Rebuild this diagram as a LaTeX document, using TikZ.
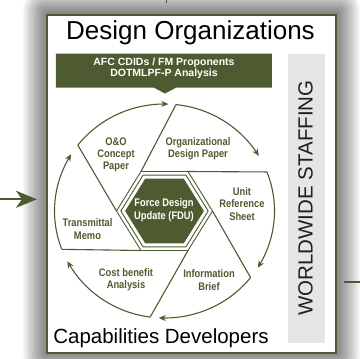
\documentclass[tikz,border=0pt]{standalone}
\usepackage{fontspec}
\setmainfont{Liberation Sans}
\newfontfamily\narrowfont[FakeStretch=0.85]{Liberation Sans}
\usetikzlibrary{arrows.meta}
\definecolor{fduolive}{RGB}{78,91,48}
\definecolor{barfill}{RGB}{229,229,231}
\def\cenx{164.5}
\def\ceny{211}
\def\radx{110}
\def\rady{107}

\begin{document}
\begin{tikzpicture}[x=1pt,y=-1pt,
  blade/.style={draw=fduolive,line width=1.1pt},
  cyc/.style={draw=fduolive,line width=1.1pt,-{Stealth[length=7pt,width=6pt]}},
  hexline/.style={draw=fduolive,line width=0.9pt},
  hexfill/.style={fill=fduolive},
  lbl/.style={text=fduolive,align=center,font=\narrowfont\bfseries\fontsize{11}{12.3}\selectfont},
  flow/.style={draw=fduolive,line width=2pt}]
\useasboundingbox (0,0) rectangle (360,359);
\foreach \i in {0,...,19}
  \fill[black,opacity=0.03,rounded corners=\i pt] ({46-1.2*\i},{13-1.2*\i}) rectangle ({337+1.2*\i},{353+1.2*\i});
\draw[fduolive,line width=2pt,fill=white] (47,14.5) rectangle (336.5,352.5);
\fill[barfill] (288,54) rectangle (325,343);
\fill[fduolive] (56,53.5) -- (272,53.5) -- (272,87.7) -- (176,87.7) -- (165,93.5) -- (154,87.7) -- (56,87.7) -- cycle;

\node[anchor=base,font=\fontsize{26}{28}\selectfont] (title) at (190.5,39.5) {Design Organizations};
\node[anchor=base,font=\fontsize{20.5}{24}\selectfont] (capdev) at (161,343) {Capabilities Developers};
\node[rotate=90,text=black!88,font=\fontsize{20.5}{24}\selectfont] (wws) at (305.5,198) {WORLDWIDE STAFFING};
\node[text=white,align=center,font=\bfseries\fontsize{10.5}{11.5}\selectfont] (afc) at (164,68.5) {AFC CDIDs / FM Proponents\\DOTMLPF-P Analysis};

\coordinate (c) at (\cenx,\ceny);
\foreach \n/\a in {v1/38.5,v2/97.5,v3/159,v4/218,v5/276,v6/338.6}
  \coordinate (\n) at ({\cenx+\radx*cos(\a)},{\ceny+\rady*sin(\a)});
\foreach \n/\dx/\dy in {h0/48/0,h1/23.5/39.5,h2/-23.5/39.5,h3/-48/0,h4/-23.5/-39.5,h5/23.5/-39.5}
  \coordinate (\n) at ({\cenx+\dx},{\ceny+\dy});

\foreach \s/\sty in {1/hexline,0.91/hexline,0.82/hexfill}
  \path[\sty,shift={(c)},scale=\s] (48,0) -- (23.5,39.5) -- (-23.5,39.5) -- (-48,0) -- (-23.5,-39.5) -- (23.5,-39.5) -- cycle;

\foreach \h/\v in {h0/v1,h1/v2,h2/v3,h3/v4,h4/v5,h5/v6}
  \draw[blade] (\h) -- (\v);
\foreach \a/\b in {38.5/93,97.5/152,159/212,218/272,276/329,338.6/392}
  \draw[cyc] plot[domain=\a:\b,samples=40] ({\cenx+\radx*cos(\x)},{\ceny+\rady*sin(\x)});

\node[lbl] (oo) at (116,155) {O\&O\\Concept\\Paper};
\node[lbl] (odp) at (198,149) {Organizational\\Design Paper};
\node[lbl] (urs) at (242,204) {Unit\\Reference\\Sheet};
\node[lbl] (ib) at (209,280) {Information\\Brief};
\node[lbl] (cba) at (126,280) {Cost benefit\\Analysis};
\node[lbl] (tm) at (87.5,229) {Transmittal\\Memo};
\node[lbl,text=white,font=\narrowfont\bfseries\fontsize{11}{13.3}\selectfont] (fdu) at (164,210.5) {Force Design\\Update (FDU)};

\coordinate (src) at (0,199.3);
\coordinate (dst) at (37,199.3);
\draw[flow,-{Stealth[length=21pt,width=17pt,inset=6pt]}] (src) -- (dst);
\coordinate (out1) at (344,281.7);
\coordinate (out2) at (360,281.7);
\draw[flow] (out1) -- (out2);
\coordinate (top1) at (166.5,0);
\coordinate (top2) at (166.5,3);
\draw[fduolive,line width=1pt] (top1) -- (top2);
\end{tikzpicture}
\end{document}
